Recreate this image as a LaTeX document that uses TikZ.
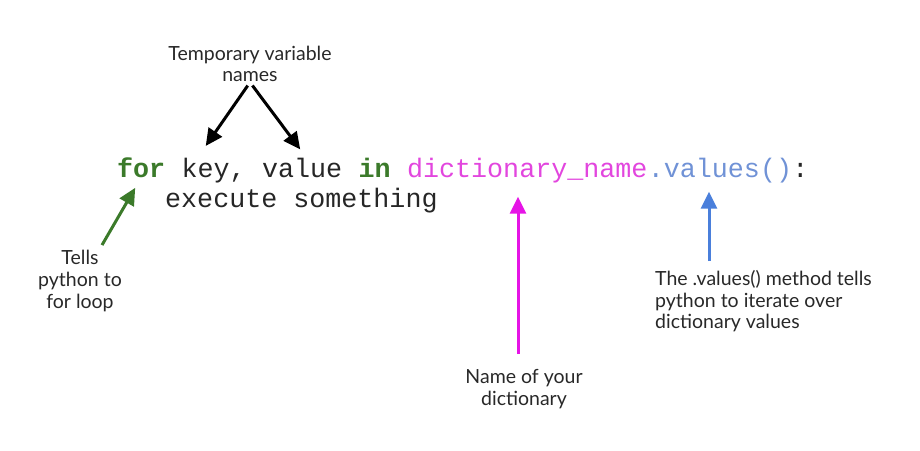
\documentclass[tikz,border=0pt]{standalone}
\usepackage{fontspec}
\setmainfont{Lato}
\setmonofont{Liberation Mono}
\usetikzlibrary{arrows, arrows.meta, positioning}
\definecolor{kwgreen}{RGB}{59,122,42}
\definecolor{dictpink}{RGB}{226,70,222}
\definecolor{pinkarrow}{RGB}{230,20,230}
\definecolor{valblue}{RGB}{112,146,214}
\definecolor{bluearrow}{RGB}{74,127,219}
\definecolor{notegray}{RGB}{40,40,40}
\newcommand{\codefont}{\ttfamily\fontsize{26.7}{32}\selectfont}
\tikzstyle{code} = [font=\codefont, inner sep=0pt, anchor=base west, text=black!85]
\tikzstyle{note} = [font=\fontsize{19.5}{21.7}\selectfont, text=notegray, align=center, inner sep=0pt]
\tikzstyle{pointer} = [-{Triangle[length=17pt, width=16pt]}, line width=3pt]

\begin{document}
\begin{tikzpicture}[x=1pt, y=-1pt]
	\useasboundingbox (0,0) rectangle (920,450);
	% the code line
	\node [code, font=\codefont\bfseries, text=kwgreen] (for) at (117,177) {for};
	\node [code] (key) at ([xshift=16pt]for.base east) {key,};
	\node [code] (value) at ([xshift=16pt]key.base east) {value};
	\node [code, font=\codefont\bfseries, text=kwgreen] (in) at ([xshift=16pt]value.base east) {in};
	\node [code, text=dictpink] (dict) at ([xshift=16pt]in.base east) {dictionary\_name};
	\node [code, text=valblue] (vals) at (dict.base east) {.values()};
	\node [code] (colon) at (vals.base east) {:};
	\node [code] (exec) at ([xshift=48pt, yshift=-30pt]for.base west) {execute something};
	% the notes
	\node [note] (temp) at (250,64) {Temporary variable\\names};
	\node [note] (tells) at (80,281) {Tells\\python to\\for loop};
	\node [note] (name) at (524,389) {Name of your\\dictionary};
	\node [note, align=left, anchor=north west] (method) at (655,270) {The .values() method tells\\python to iterate over\\dictionary values};
	% the pointers
	\draw [pointer, shorten <=4pt, shorten >=14pt] (temp.south) -- ([xshift=-16pt]key.north);
	\draw [pointer, shorten <=4pt, shorten >=10pt] (temp.south) -- ([xshift=4pt]value.north);
	\draw [pointer, kwgreen, shorten <=6pt, shorten >=12pt] ([xshift=19pt]tells.north) -- (for.south);
	\draw [pointer, pinkarrow, shorten <=15pt, shorten >=14pt] ([xshift=-6pt]name.north) -- ([xshift=-6pt]name.north |- dict.south);
	\draw [pointer, bluearrow, shorten <=9pt, shorten >=9pt] ([xshift=54pt]method.north west) -- ([xshift=54pt]method.north west |- vals.south);
\end{tikzpicture}
\end{document}
